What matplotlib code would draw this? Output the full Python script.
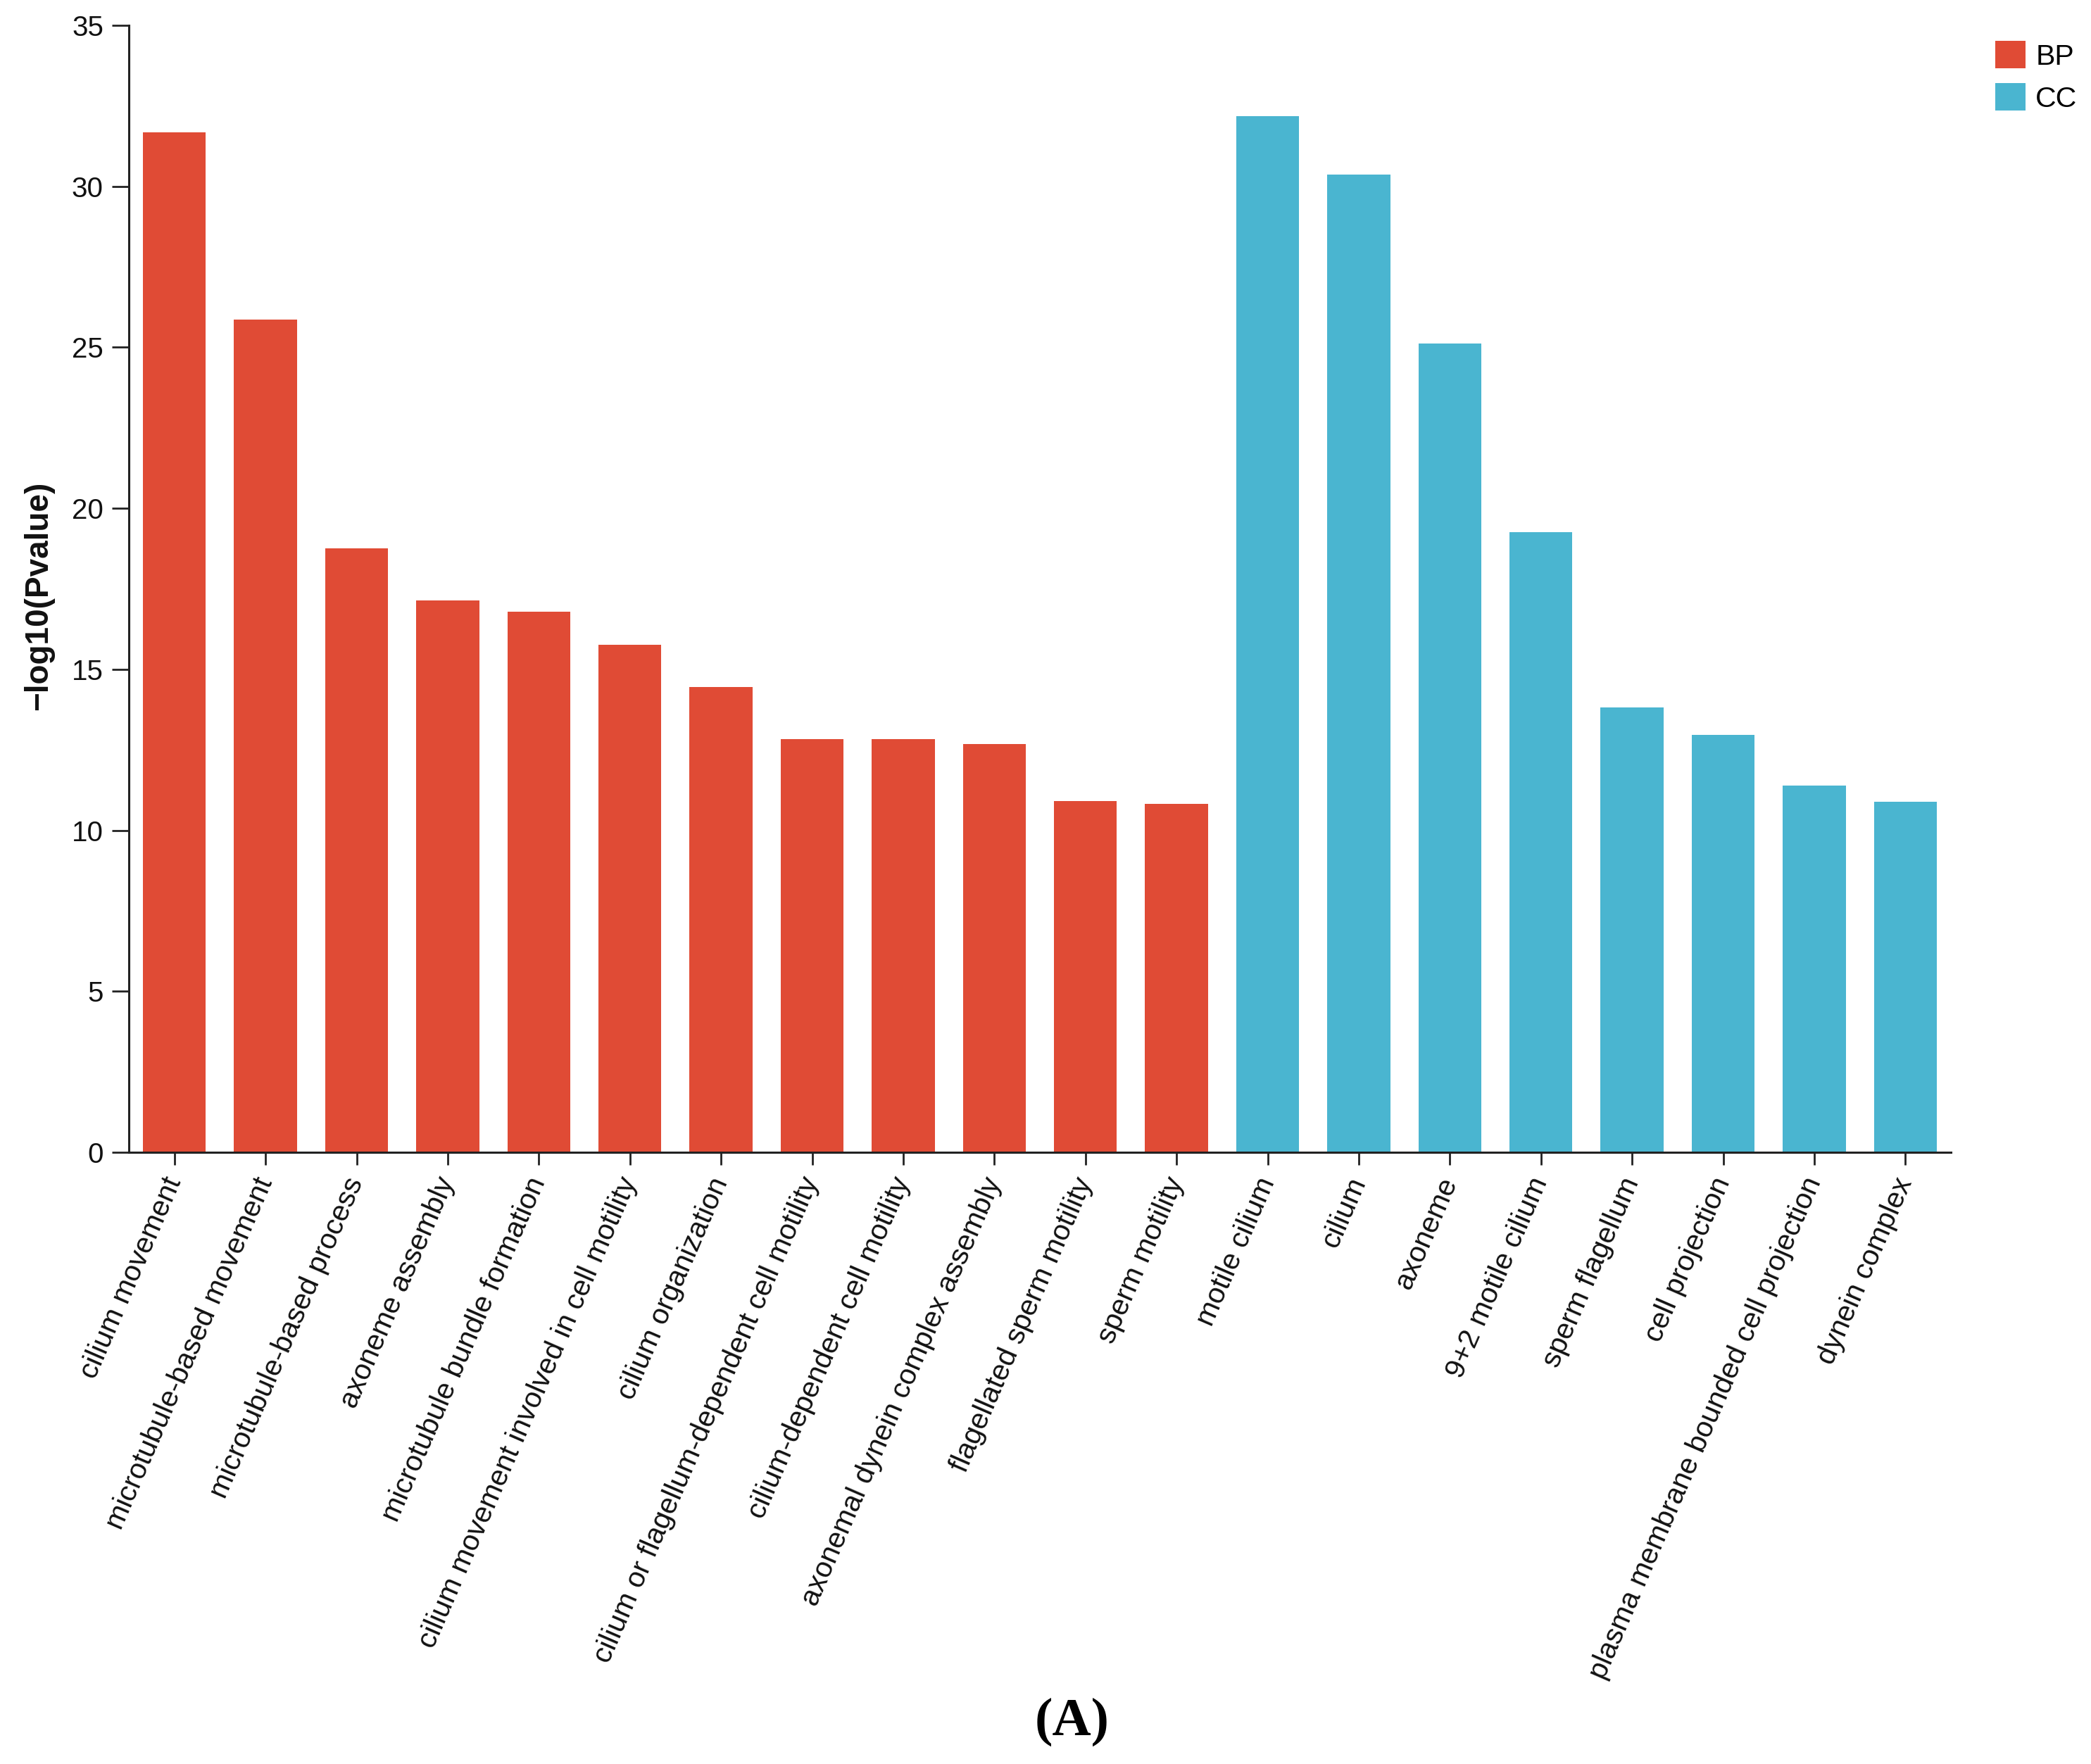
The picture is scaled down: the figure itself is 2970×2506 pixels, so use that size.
import matplotlib
matplotlib.use("Agg")
import matplotlib.pyplot as plt
from matplotlib.patches import Patch

# ---- data ----
bp_terms = [
    "cilium movement",
    "microtubule-based movement",
    "microtubule-based process",
    "axoneme assembly",
    "microtubule bundle formation",
    "cilium movement involved in cell motility",
    "cilium organization",
    "cilium or flagellum-dependent cell motility",
    "cilium-dependent cell motility",
    "axonemal dynein complex assembly",
    "flagellated sperm motility",
    "sperm motility",
]
bp_values = [31.67, 25.86, 18.75, 17.15, 16.78, 15.77, 14.46, 12.84, 12.84, 12.68, 10.90, 10.82]

cc_terms = [
    "motile cilium",
    "cilium",
    "axoneme",
    "9+2 motile cilium",
    "sperm flagellum",
    "cell projection",
    "plasma membrane bounded cell projection",
    "dynein complex",
]
cc_values = [32.19, 30.37, 25.11, 19.26, 13.82, 12.96, 11.39, 10.88]

y_ticks = [0, 5, 10, 15, 20, 25, 30, 35]
y_label = "\u2212log10(Pvalue)"
legend_labels = ["BP", "CC"]
caption = "(A)"

BP_COLOR = "#E04B35"
CC_COLOR = "#4AB5D0"

plt.rcParams["font.family"] = ["Liberation Sans", "DejaVu Sans"]

W, H = 2970, 2506
fig = plt.figure(figsize=(W / 100, H / 100), dpi=100)
ax = fig.add_axes([183 / W, 1 - 1637 / H, (2771 - 183) / W, (1637 - 36) / H])

terms = bp_terms + cc_terms
x = list(range(len(terms)))

ax.bar(x[:len(bp_terms)], bp_values, width=0.69, color=BP_COLOR, edgecolor="none")
ax.bar(x[len(bp_terms):], cc_values, width=0.69, color=CC_COLOR, edgecolor="none")

ax.set_xlim(-0.5, len(terms) - 0.5)
ax.set_ylim(0, 35)
ax.set_yticks(y_ticks)
ax.set_yticklabels([str(t) for t in y_ticks], fontsize=29, color="#111111")
ax.set_xticks(x)
ax.set_xticklabels(terms, rotation=66.5, ha="right", va="center",
                   rotation_mode="anchor", fontsize=29.5, color="#111111")

for s in ["top", "right"]:
    ax.spines[s].set_visible(False)
for s in ["left", "bottom"]:
    ax.spines[s].set_linewidth(2.2)
    ax.spines[s].set_color("#222222")

ax.tick_params(axis="y", length=17, width=2.0, color="#222222", pad=9)
ax.tick_params(axis="x", length=13, width=2.0, color="#222222", pad=14)

fig.text(55 / W, 1 - 846 / H, y_label, rotation=90, ha="center", va="center",
         fontsize=33, fontweight="bold", color="#111111")

handles = [Patch(facecolor=BP_COLOR, edgecolor="none"),
           Patch(facecolor=CC_COLOR, edgecolor="none")]
fig.legend(handles, legend_labels, loc="upper left",
           bbox_to_anchor=(2834 / W, 1 - 58 / H), frameon=False,
           fontsize=29.5, handlelength=1.05, handleheight=1.1,
           handletextpad=0.35, labelspacing=0.45, borderpad=0, borderaxespad=0)

fig.text(1523 / W, 1 - 2446 / H, caption, ha="center", va="center",
         fontsize=55, fontweight="bold", family=["Liberation Serif", "DejaVu Serif"])

fig.savefig("out.png", dpi=100, facecolor="white")
